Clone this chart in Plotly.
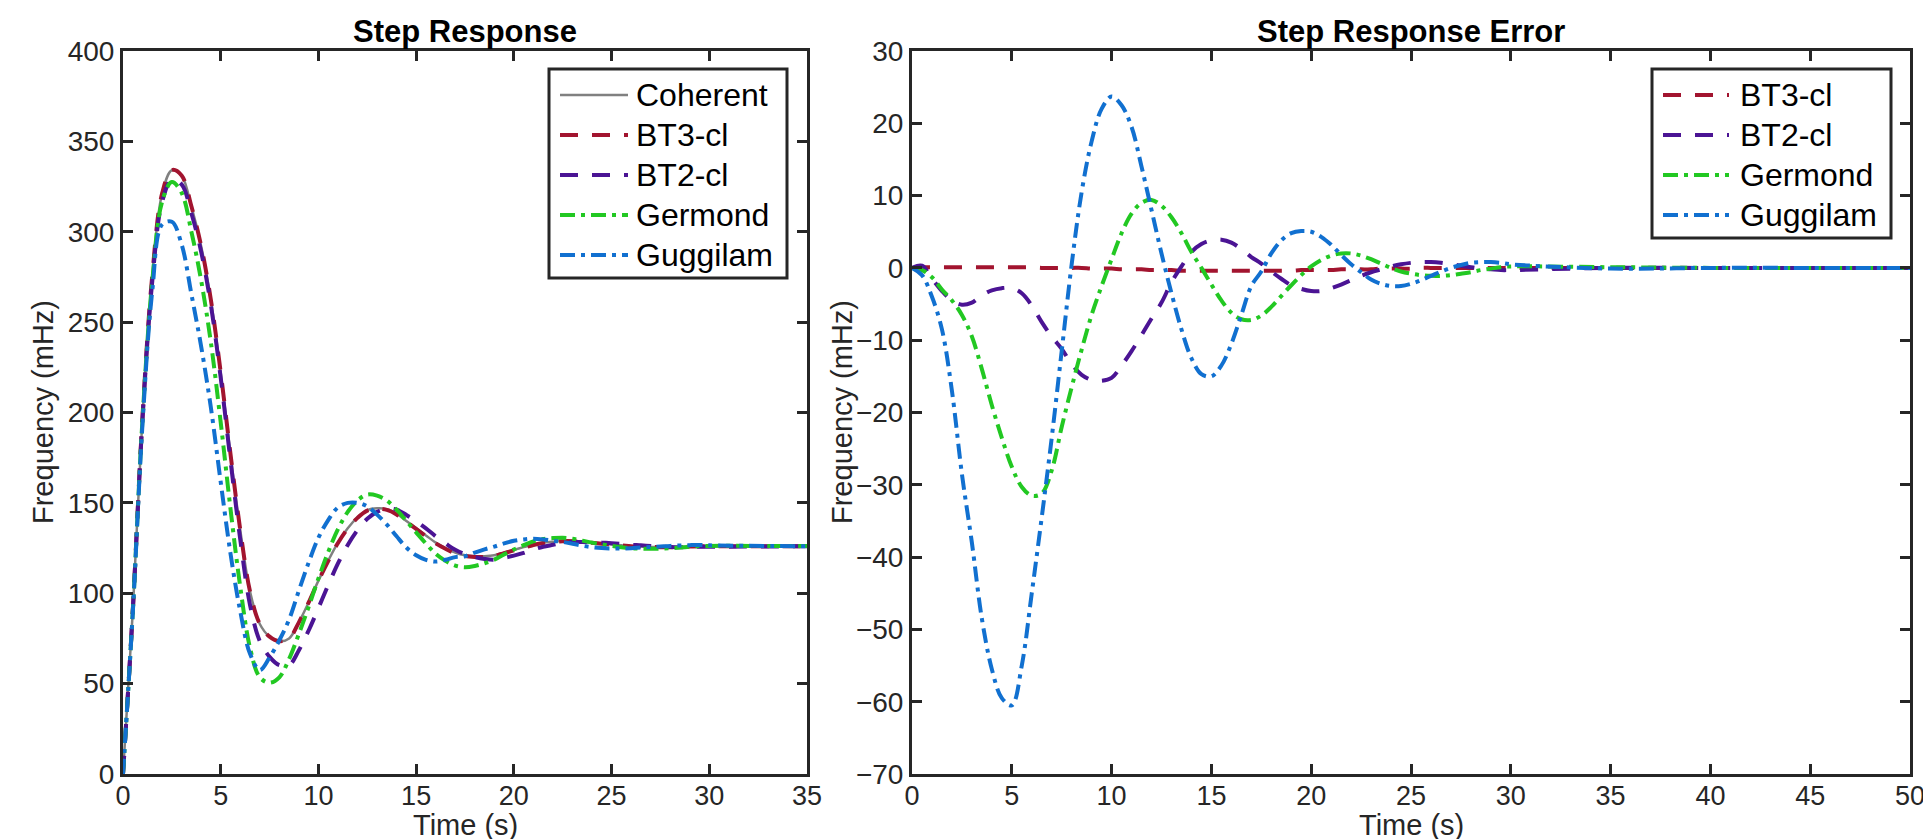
import plotly.graph_objects as go

# time grids (s)
t_grid = [0, 0.5, 1, 1.5, 2, 2.5, 3, 3.5, 4, 4.5, 5, 5.5, 6, 6.5, 7, 7.5, 8, 8.5, 9, 9.5,
          10, 10.5, 11, 11.5, 12, 12.5, 13, 13.5, 14, 14.5, 15, 15.5, 16, 16.5, 17, 17.5,
          18, 18.5, 19, 19.5, 20, 20.5, 21, 21.5, 22, 22.5, 23, 23.5, 24, 24.5, 25, 25.5,
          26, 26.5, 27, 27.5, 28, 28.5, 29, 29.5, 30]
t_step = t_grid + [35]
t_err = t_grid + [35, 40, 45, 50]

# step response (mHz)
coherent = [0, 90, 198, 276, 321, 334, 331, 314, 292, 262, 222, 177, 135, 101, 83, 76, 73.5, 75, 84, 95,
            107, 118, 128, 136, 142, 146, 147, 146.5, 144, 140, 136, 132, 128, 125, 122.5, 121,
            120.5, 120.5, 121, 122.5, 124, 125.5, 127, 128, 128.5, 129, 129, 128.5, 128, 127.5, 127, 126.5,
            126, 125.8, 125.6, 125.5, 125.5, 125.6, 125.8, 126, 126, 126]
bt3 = [0, 90.1, 198.1, 276.1, 321.1, 334.1, 331.1, 314.1, 292.1, 262.1, 222.1, 177.1, 135.1, 101, 83, 76, 73.5, 75, 83.9, 94.9,
       106.9, 117.8, 127.8, 135.8, 141.7, 145.7, 146.7, 146.1, 143.6, 139.6, 135.6, 131.6, 127.6, 124.6, 122.1, 120.6,
       120.1, 120.1, 120.6, 122.2, 123.7, 125.2, 126.7, 127.8, 128.3, 128.8, 128.8, 128.4, 127.9, 127.4, 126.9, 126.5,
       126, 125.8, 125.6, 125.5, 125.5, 125.6, 125.8, 126, 126, 126]
bt2 = [0, 90.3, 196.5, 272.8, 316.5, 328.9, 326.2, 310.2, 288.9, 259.2, 219.2, 173.5, 129.8, 93.5, 73.5, 64.8, 60.2, 60.2, 68.5, 79.4,
       91.8, 104.5, 116.5, 126.7, 135, 141.2, 145, 146.7, 146.2, 143.3, 139.8, 135.9, 131.5, 127.6, 124, 121.6,
       120, 119, 118.6, 119.6, 120.8, 122.3, 124.2, 125.7, 126.8, 127.9, 128.4, 128.3, 128.2, 128, 127.7, 127.3,
       126.8, 126.5, 126.1, 125.8, 125.6, 125.5, 125.6, 125.7, 125.7, 126]
germond = [0, 89.7, 196.7, 273, 316.5, 327.5, 321.5, 300, 273, 238.5, 194.5, 146.7, 103.5, 69.8, 53.5, 50.5, 53.5, 63.7, 77.5, 92.5,
           108.2, 122.8, 135.5, 145, 151.4, 154.6, 154, 151.3, 146.2, 140, 133.7, 127.5, 121.8, 117.9, 115.3, 114.4,
           115.1, 116.6, 118.6, 121.5, 124.2, 126.6, 128.7, 130, 130.5, 130.7, 130.2, 129.1, 128, 127, 126.2, 125.5,
           124.9, 124.7, 124.6, 124.7, 124.9, 125.3, 125.7, 126.1, 126.2, 126.1]
guggilam = [0, 89, 194, 267.5, 304, 305.5, 293, 265.5, 236.5, 202.5, 161.5, 122, 90, 66.5, 57.5, 64.5, 74, 85.5, 101.5, 117,
            130.7, 140.5, 147.5, 150, 150, 148, 143.5, 138, 131.5, 125.3, 121, 118.5, 117.5, 118.5, 120, 120.5,
            122.5, 124.3, 125.8, 127.6, 129, 129.8, 130.2, 129.8, 129, 128.4, 127.4, 126.3, 125.5, 125, 124.8, 124.8,
            124.9, 125.3, 125.6, 125.9, 126.2, 126.4, 126.6, 126.7, 126.5, 126]

# step response error (mHz)
bt3_err = [0, 0.1, 0.1, 0.1, 0.1, 0.1, 0.1, 0.1, 0.1, 0.1, 0.1, 0.1, 0.1,
           0, 0, 0, 0, 0, -0.1, -0.1, -0.1, -0.2, -0.2, -0.2, -0.3, -0.3, -0.3,
           -0.4, -0.4, -0.4, -0.4, -0.4, -0.4, -0.4, -0.4, -0.4, -0.4, -0.4, -0.4,
           -0.3, -0.3, -0.3, -0.3, -0.2, -0.2, -0.2, -0.2, -0.1, -0.1, -0.1, -0.1,
           0, 0, 0, 0, 0, 0, 0, 0, 0, 0, 0, 0, 0, 0]
bt2_err = [0, 0.3, -1.5, -3.2, -4.5, -5.1, -4.8, -3.8, -3.1, -2.8, -2.8, -3.5, -5.2, -7.5, -9.5, -11.2, -13.3, -14.8, -15.5, -15.6,
           -15.2, -13.5, -11.5, -9.3, -7, -4.8, -2, 0.2, 2.2, 3.3, 3.8, 3.9, 3.5, 2.6, 1.5, 0.6,
           -0.5, -1.5, -2.4, -2.9, -3.2, -3.2, -2.8, -2.3, -1.7, -1.1, -0.6, -0.2, 0.2, 0.5, 0.7, 0.8,
           0.8, 0.7, 0.5, 0.3, 0.1, -0.1, -0.2, -0.3, -0.3, 0, 0, 0, 0]
germond_err = [0, -0.3, -1.3, -3, -4.5, -6.5, -9.5, -14, -19, -23.5, -27.5, -30.3, -31.5, -31.2, -28, -22, -16.5, -11.3, -6.5, -2.5,
               1.2, 4.8, 7.5, 9, 9.4, 8.6, 7, 4.8, 2.2, 0, -2.3, -4.5, -6.2, -7.1, -7.2, -6.6,
               -5.4, -3.9, -2.4, -1, 0.2, 1.1, 1.7, 2, 2, 1.7, 1.2, 0.6, 0, -0.5, -0.8, -1,
               -1.1, -1.1, -1, -0.8, -0.6, -0.3, -0.1, 0.1, 0.2, 0.1, 0, 0, 0]
guggilam_err = [0, -1, -4, -8.5, -17, -28.5, -38, -48.5, -55.5, -59.5, -60.5, -55, -45, -34.5, -23.5, -11.5, 0.5, 10.5, 17.5, 22,
                23.7, 22.5, 19.5, 14, 8, 2, -3.5, -8.5, -12.5, -14.7, -15, -13.5, -10.5, -6.5, -2.5, -0.5,
                2, 3.8, 4.8, 5.1, 5, 4.3, 3.2, 1.8, 0.5, -0.6, -1.6, -2.2, -2.5, -2.5, -2.2, -1.7,
                -1.1, -0.5, 0, 0.4, 0.7, 0.8, 0.8, 0.7, 0.5, -0.1, 0, 0, 0]

FONT = "Liberation Sans, Arial, Helvetica, sans-serif"
AX = "#262626"
C_COH = "#808080"
C_BT3 = "#A2142F"
C_BT2 = "#4B1494"
C_GER = "#22C822"
C_GUG = "#1170D0"
DASH = "18px,14px"
DASHDOT = "15px,6px,4px,6px"
W = 4

H, Wd = 839, 1931


def px(x):
    return x / Wd


def py(y):
    return (H - y) / H


fig = go.Figure()

left = [
    ("Coherent", coherent, C_COH, "solid", 2.5),
    ("BT3-cl", bt3, C_BT3, DASH, W),
    ("BT2-cl", bt2, C_BT2, DASH, W),
    ("Germond", germond, C_GER, DASHDOT, W),
    ("Guggilam", guggilam, C_GUG, DASHDOT, W),
]
for name, y, c, d, w in left:
    fig.add_trace(go.Scatter(x=t_step, y=y, name=name, mode="lines", showlegend=False,
                             line=dict(color=c, dash=d, width=w, shape="spline"),
                             xaxis="x", yaxis="y"))

right = [
    ("BT3-cl", bt3_err, C_BT3, DASH, W),
    ("BT2-cl", bt2_err, C_BT2, DASH, W),
    ("Germond", germond_err, C_GER, DASHDOT, W),
    ("Guggilam", guggilam_err, C_GUG, DASHDOT, W),
]
for name, y, c, d, w in right:
    fig.add_trace(go.Scatter(x=t_err, y=y, name=name, mode="lines", showlegend=False,
                             line=dict(color=c, dash=d, width=w, shape="spline"),
                             xaxis="x2", yaxis="y2"))

axis_common = dict(showline=True, linecolor=AX, linewidth=3, mirror="ticks",
                   ticks="inside", ticklen=10, tickwidth=2.5, tickcolor=AX,
                   showgrid=False, zeroline=False, automargin=False,
                   tickfont=dict(family=FONT, size=28, color=AX))
xtick = dict(axis_common, tickfont=dict(family=FONT, size=27, color=AX), ticklabelstandoff=-4)

fig.update_layout(
    width=Wd, height=H,
    margin=dict(l=0, r=0, t=0, b=0),
    paper_bgcolor="white", plot_bgcolor="white",
    showlegend=False,
    xaxis=dict(domain=[px(115), px(799)], range=[0, 35], dtick=5, anchor="y", **xtick),
    yaxis=dict(domain=[py(766), py(43)], range=[0, 400], dtick=50, anchor="x", **axis_common),
    xaxis2=dict(domain=[px(904), px(1902)], range=[0, 50], dtick=5, anchor="y2", **xtick),
    yaxis2=dict(domain=[py(766), py(43)], range=[-70, 30], dtick=10, anchor="x2", **axis_common),
)

# legend boxes drawn like the MATLAB ones: long line samples, boxed
leg_font = dict(family=FONT, size=32, color="black")


def add_legend(entries, box, line_x, text_x, y0, step):
    fig.add_shape(type="rect", xref="paper", yref="paper",
                  x0=px(box[0]), x1=px(box[1]), y0=py(box[3]), y1=py(box[2]),
                  fillcolor="white", line=dict(color=AX, width=3), layer="above")
    for i, (name, _, c, d, w) in enumerate(entries):
        yc = y0 + i * step
        fig.add_shape(type="line", xref="paper", yref="paper",
                      x0=px(line_x[0]), x1=px(line_x[1]), y0=py(yc), y1=py(yc),
                      line=dict(color=c, dash=d, width=w), layer="above")
        fig.add_annotation(text=name, xref="paper", yref="paper", x=px(text_x), y=py(yc),
                           xanchor="left", yanchor="middle", showarrow=False, font=leg_font)


add_legend(left, (541, 779, 61, 270), (552, 620), 626, 87, 40)
add_legend(right, (1644, 1883, 61, 230), (1655, 1721), 1730, 87, 40)

title_font = dict(family=FONT, size=31, color="black")
label_font = dict(family=FONT, size=29, color=AX)
notes = [
    dict(text="<b>Step Response</b>", x=px(457), y=py(24), font=title_font),
    dict(text="<b>Step Response Error</b>", x=px(1403), y=py(24), font=title_font),
    dict(text="Time (s)", x=px(457), y=py(817), font=label_font),
    dict(text="Time (s)", x=px(1403), y=py(817), font=label_font),
    dict(text="Frequency (mHz)", x=px(35), y=py(404), font=label_font, textangle=-90),
    dict(text="Frequency (mHz)", x=px(834), y=py(404), font=label_font, textangle=-90),
]
for n in notes:
    fig.add_annotation(xref="paper", yref="paper", showarrow=False,
                       xanchor="center", yanchor="middle", **n)

fig.write_html("out.html")
